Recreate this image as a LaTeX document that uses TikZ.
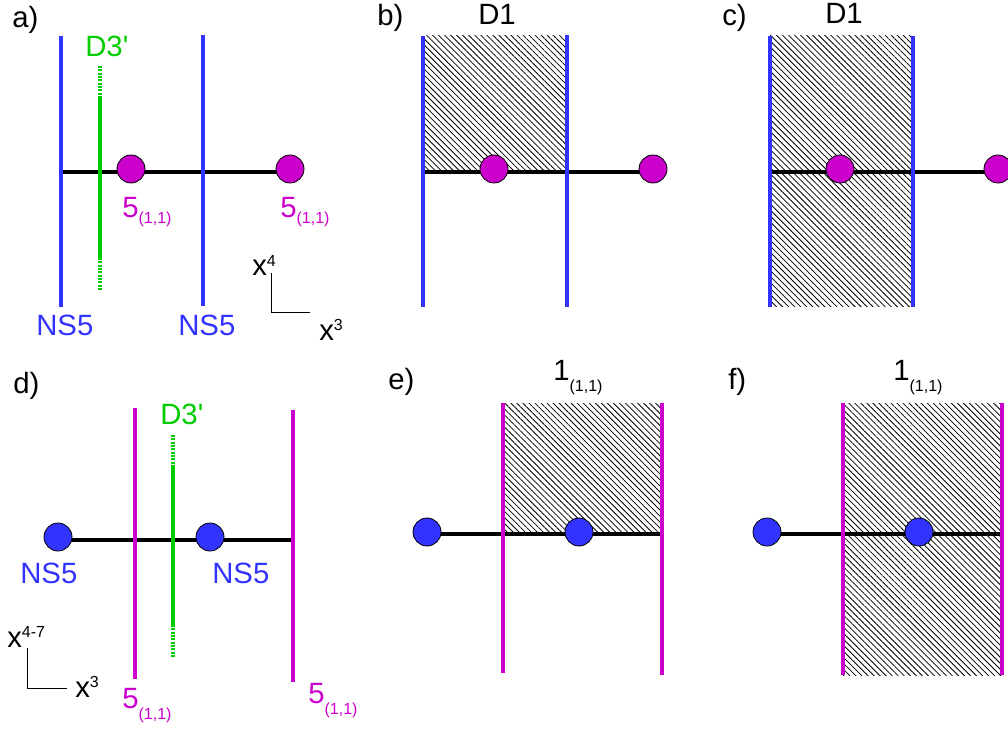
\documentclass[tikz,border=0pt]{standalone}
\usepackage{fontspec}
\setmainfont{Liberation Sans}
\usetikzlibrary{patterns.meta}
\definecolor{nsblue}{RGB}{51,51,255}
\definecolor{pqmag}{RGB}{204,0,204}
\definecolor{dgreen}{RGB}{0,204,0}
\newcommand{\idxdown}[2][-6pt]{\raisebox{#1}{\fontsize{12}{14}\selectfont #2}}
\newcommand{\idxup}[1]{\raisebox{7pt}{\fontsize{12}{14}\selectfont #1}}

\begin{document}
\begin{tikzpicture}[
  x=.75pt, y=-.75pt,
  nsline/.style={line width=3pt,nsblue},
  pqline/.style={line width=3pt,pqmag},
  d3line/.style={line width=3pt,dgreen},
  d3dash/.style={d3line,dash pattern=on 1.5pt off 1pt},
  fstring/.style={line width=3pt,black},
  nsdot/.style={circle,draw=black,line width=.6pt,fill=nsblue,
    minimum size=21pt,inner sep=0pt},
  pqdot/.style={nsdot,fill=pqmag},
  lab/.style={font=\fontsize{22}{26}\selectfont,inner sep=0pt,anchor=base west},
  hatch/.style={pattern={Lines[angle=-45,distance=3.2pt,line width=.6pt]}},
  axisline/.style={line width=.75pt}
]
\useasboundingbox (0,0) rectangle (1008,731);

% a)
\node[lab] (la) at (12,28) {a)};
\coordinate (a1t) at (61,36);  \coordinate (a1b) at (61,307);
\coordinate (a2t) at (203,35); \coordinate (a2b) at (203,306);
\coordinate (a3t) at (100,66); \coordinate (a3u) at (100,96);
\coordinate (a3l) at (100,258); \coordinate (a3b) at (100,290);
\coordinate (as0) at (61,172); \coordinate (as1) at (290,172);
\draw[fstring] (as0) -- (as1);
\draw[nsline] (a1t) -- (a1b);
\draw[nsline] (a2t) -- (a2b);
\draw[d3dash] (a3t) -- (a3u);
\draw[d3line] (a3u) -- (a3l);
\draw[d3dash] (a3l) -- (a3b);
\node[pqdot] (ad1) at (131,169) {};
\node[pqdot] (ad2) at (290,169) {};
\node[lab,dgreen] (ad3) at (85,57) {D3\textquotesingle};
\node[lab,pqmag] (ap1) at (122,218) {5\idxdown[-3.8pt]{(1,1)}};
\node[lab,pqmag] (ap2) at (280,218) {5\idxdown[-3.8pt]{(1,1)}};
\node[lab,nsblue] (an1) at (36,335) {NS5};
\node[lab,nsblue] (an2) at (178,335) {NS5};
\coordinate (ao) at (271,313);
\coordinate (ay) at (271,273); \coordinate (ax) at (310,313);
\draw[axisline] (ay) -- (ao) -- (ax);
\node[lab] (ax4) at (252,276) {x\idxup{4}};
\node[lab] (ax3) at (319,340) {x\idxup{3}};

% b)
\node[lab] (lb) at (377,26) {b)};
\node[lab] (bd1) at (478,25) {D1};
\coordinate (b1t) at (423,36);  \coordinate (b1b) at (423,307);
\coordinate (b2t) at (567,35);  \coordinate (b2b) at (567,307);
\coordinate (bs0) at (423,172); \coordinate (bs1) at (653,172);
\fill[hatch] (b1t) rectangle (b2t |- bs0);
\draw[fstring] (bs0) -- (bs1);
\draw[nsline] (b1t) -- (b1b);
\draw[nsline] (b2t) -- (b2b);
\node[pqdot] (bdot1) at (494,169) {};
\node[pqdot] (bdot2) at (653,169) {};

% c)
\node[lab] (lc) at (722,26) {c)};
\node[lab] (cd1) at (825,24) {D1};
\coordinate (c1t) at (770,36);  \coordinate (c1b) at (770,307);
\coordinate (c2t) at (913,36);  \coordinate (c2b) at (913,307);
\coordinate (cs0) at (770,172); \coordinate (cs1) at (998,172);
\fill[hatch] (c1t) rectangle (c2b);
\draw[fstring] (cs0) -- (cs1);
\draw[nsline] (c1t) -- (c1b);
\draw[nsline] (c2t) -- (c2b);
\node[pqdot] (cdot1) at (840,169) {};
\node[pqdot] (cdot2) at (998,169) {};

% d)
\node[lab] (ld) at (13,393) {d)};
\coordinate (d1t) at (135,408); \coordinate (d1b) at (135,679);
\coordinate (d2t) at (293,410); \coordinate (d2b) at (293,682);
\coordinate (d3t) at (173,435); \coordinate (d3u) at (173,465);
\coordinate (d3l) at (173,625); \coordinate (d3b) at (173,658);
\coordinate (ds0) at (58,540);  \coordinate (ds1) at (293,540);
\draw[fstring] (ds0) -- (ds1);
\draw[pqline] (d1t) -- (d1b);
\draw[pqline] (d2t) -- (d2b);
\draw[d3dash] (d3t) -- (d3u);
\draw[d3line] (d3u) -- (d3l);
\draw[d3dash] (d3l) -- (d3b);
\node[nsdot] (dd1) at (58,537) {};
\node[nsdot] (dd2) at (210,537) {};
\node[lab,dgreen] (dd3) at (160,425) {D3\textquotesingle};
\node[lab,nsblue] (dn1) at (20,583) {NS5};
\node[lab,nsblue] (dn2) at (212,583) {NS5};
\node[lab,pqmag] (dp1) at (122,708) {5\idxdown[-8.7pt]{(1,1)}};
\node[lab,pqmag] (dp2) at (308,703) {5\idxdown[-8.7pt]{(1,1)}};
\coordinate (do) at (27,688);
\coordinate (dy) at (27,648); \coordinate (dx) at (67,688);
\draw[axisline] (dy) -- (do) -- (dx);
\node[lab] (dx47) at (7,647) {x\idxup{4-7}};
\node[lab] (dx3) at (75,697) {x\idxup{3}};

% e)
\node[lab] (le) at (388,389) {e)};
\node[lab] (e11) at (553,380) {1\idxdown[-8.7pt]{(1,1)}};
\coordinate (e1t) at (503,403); \coordinate (e1b) at (503,673);
\coordinate (e2t) at (662,403); \coordinate (e2b) at (662,675);
\coordinate (es0) at (427,534); \coordinate (es1) at (662,534);
\fill[hatch] (e1t) rectangle (es1);
\draw[fstring] (es0) -- (es1);
\draw[pqline] (e1t) -- (e1b);
\draw[pqline] (e2t) -- (e2b);
\node[nsdot] (edot1) at (427,532) {};
\node[nsdot] (edot2) at (579,532) {};

% f)
\node[lab] (lf) at (728,389) {f)};
\node[lab] (f11) at (893,380) {1\idxdown[-8.7pt]{(1,1)}};
\coordinate (f1t) at (843,403);  \coordinate (f1b) at (843,675);
\coordinate (f2t) at (1002,403); \coordinate (f2b) at (1002,675);
\coordinate (fs0) at (767,534);  \coordinate (fs1) at (1002,534);
\fill[hatch] (f1t) rectangle (f2b);
\draw[fstring] (fs0) -- (fs1);
\draw[pqline] (f1t) -- (f1b);
\draw[pqline] (f2t) -- (f2b);
\node[nsdot] (fdot1) at (767,532) {};
\node[nsdot] (fdot2) at (919,532) {};
\end{tikzpicture}
\end{document}
